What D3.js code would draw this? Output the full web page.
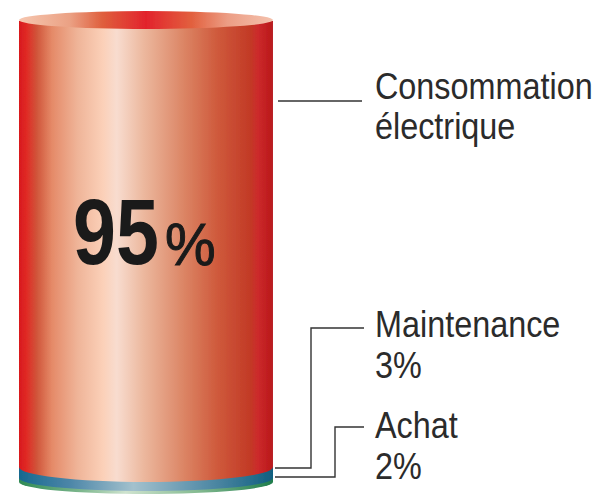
<!DOCTYPE html>
<html><head><meta charset="utf-8">
<script src="https://cdn.jsdelivr.net/npm/d3@7"></script>
<style>html,body{margin:0;padding:0;background:#fff}svg{display:block}</style>
</head><body><div id="c"></div>
<script>
const categories=["Consommation électrique","Maintenance","Achat"];
const shares=[95,3,2];
const fills=["redBody","blueBody","greenBody"];
const W=603,H=495,font="'Liberation Sans',Arial,sans-serif";
const svg=d3.select("#c").append("svg").attr("width",W).attr("height",H);
const defs=svg.append("defs");
function grad(id,stops){const g=defs.append("linearGradient").attr("id",id).attr("x1",0).attr("x2",1).attr("y1",0).attr("y2",0);
 stops.forEach(s=>g.append("stop").attr("offset",s[0]).attr("stop-color",s[1]));}
grad("redBody",[[0,"#d8181e"],[.03,"#e02a25"],[.07,"#d0553a"],[.13,"#e58a68"],[.23,"#efb498"],[.33,"#fbd0b8"],[.385,"#f8dccf"],[.49,"#ecb89e"],[.645,"#dc8666"],[.78,"#cf5a3c"],[.91,"#c23a26"],[.94,"#cc2a2c"],[.99,"#bc1a1c"],[1,"#b8222a"]]);
grad("blueBody",[[0,"#16688f"],[.2,"#4c86a8"],[.45,"#a3c1cd"],[.7,"#5f93ad"],[1,"#105f80"]]);
grad("greenBody",[[0,"#2f8a55"],[.25,"#7fb88f"],[.42,"#cfe3cf"],[.7,"#86bb92"],[1,"#1f7d4c"]]);
grad("topFace",[[0,"#f6c7b0"],[.2,"#eba184"],[.33,"#df5e3c"],[.5,"#e2232c"],[.68,"#e2603e"],[.82,"#ec9d84"],[1,"#f4c2ae"]]);
defs.append("filter").attr("id","soft").append("feGaussianBlur").attr("stdDeviation",.6);

const x=d3.scaleLinear().domain([0,1]).range([19,273]);
// stacked share axis; the thin bands are drawn slightly compressed as in the source
const y=d3.scaleLinear().domain([0,2,5,100]).range([482,478,467,21]);
const curve=[15,13,12];
const ryTop=8;
const cum=d3.cumsum(shares.slice().reverse()).reverse();
const g=svg.append("g").attr("filter","url(#soft)");
function bodyPath(bottom,ry){const a=x(0),b=x(1),yb=y(bottom);
 return `M${a},${y(100)}L${b},${y(100)}L${b},${yb}A${(b-a)/2},${ry} 0 0 1 ${a},${yb}Z`;}
const rows=shares.map((s,i)=>({name:categories[i],share:s,fill:fills[i],ry:curve[i],bottom:i+1<shares.length?cum[i+1]:0}));
g.selectAll("path.band").data(rows.slice().reverse()).join("path").attr("class","band")
 .attr("d",d=>bodyPath(d.bottom,d.ry)).attr("fill",d=>`url(#${d.fill})`);
g.append("ellipse").attr("cx",(x(0)+x(1))/2).attr("cy",y(100)-1).attr("rx",(x(1)-x(0))/2).attr("ry",ryTop+1).attr("fill","url(#topFace)");

const leaders=[[[278,101],[362,101]],[[275,468],[311,468],[311,328],[364,328]],[[275,477],[335,477],[335,427],[364,427]]];
svg.selectAll("path.lead").data(leaders).join("path").attr("class","lead").attr("fill","none")
 .attr("stroke","#333").attr("stroke-width",1.4).attr("d",d3.line());

const labels=[["Consommation",375,99],["électrique",375,139],[categories[1],375,337],[shares[1]+"%",375,378],[categories[2],375,438],[shares[2]+"%",375,479]];
svg.selectAll("text.lab").data(labels).join("text").attr("class","lab")
 .attr("transform",d=>`translate(${d[1]},${d[2]}) scale(.875,1)`)
 .attr("font-family",font).attr("font-size",37).attr("fill","#2b2b2b").text(d=>d[0]);
svg.append("text").attr("transform","translate(73,264) scale(.84,1)").attr("font-family",font).attr("fill","#1a1a1a")
 .attr("font-weight","bold").attr("font-size",92).text(shares[0]);
svg.append("text").attr("transform","translate(165,265) scale(.95,1)").attr("font-family",font).attr("fill","#1a1a1a")
 .attr("font-size",60).attr("stroke","#1a1a1a").attr("stroke-width",1).text("%");
</script></body></html>
